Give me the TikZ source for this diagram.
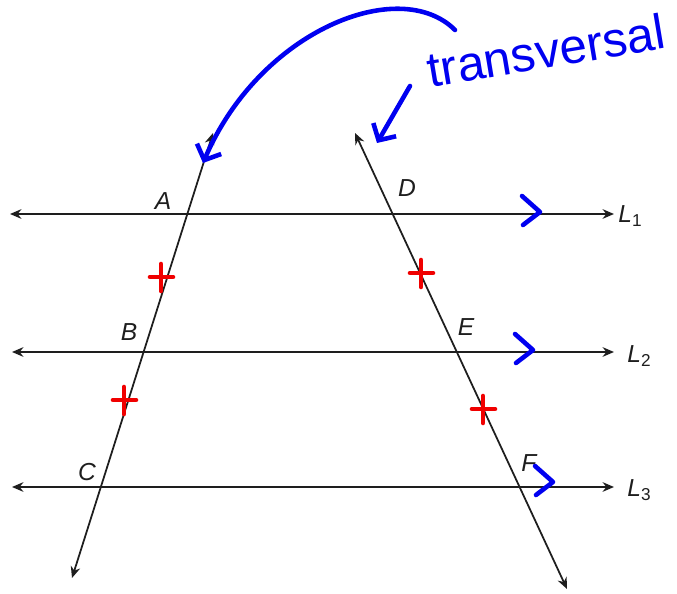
\documentclass[tikz,border=0pt]{standalone}
\usepackage{fontspec}
\setsansfont{Liberation Sans}
\usetikzlibrary{arrows.meta}
\definecolor{inkblue}{RGB}{0,0,240}
\definecolor{inkred}{RGB}{240,0,0}
\definecolor{linegray}{RGB}{30,30,30}

\begin{document}
\begin{tikzpicture}[x=0.02cm, y=-0.02cm,
    parline/.style={<->, >={Stealth[length=6.5pt,width=5.5pt]}, draw=linegray, line width=1pt},
    ptlabel/.style={font=\fontsize{14}{16}\sffamily\itshape, text=linegray, inner sep=0pt},
    redmark/.style={draw=inkred, line width=2.6pt, line cap=round},
    bluemark/.style={draw=inkblue, line width=2.6pt, line cap=round, line join=round},
    hand/.style={bluemark, -{Straight Barb[length=7pt,width=15pt]}}]
  \useasboundingbox (0,0) rectangle (677,594);
  % parallel lines and transversals
  \coordinate (L1w) at (10,214);  \coordinate (L1e) at (614,214);
  \coordinate (L2w) at (12,352);  \coordinate (L2e) at (614,352);
  \coordinate (L3w) at (12,487);  \coordinate (L3e) at (614,487);
  \coordinate (Ltop) at (213,133); \coordinate (Lbot) at (72,578);
  \coordinate (Rtop) at (355,133); \coordinate (Rbot) at (567,589);
  \draw[parline] (L1w) -- (L1e);
  \draw[parline] (L2w) -- (L2e);
  \draw[parline] (L3w) -- (L3e);
  \draw[parline] (Ltop) -- (Lbot);
  \draw[parline] (Rtop) -- (Rbot);
  \node[ptlabel] (A) at (163,201) {A};
  \node[ptlabel] (B) at (129,332) {B};
  \node[ptlabel] (C) at (87,472) {C};
  \node[ptlabel] (D) at (407,188) {D};
  \node[ptlabel] (E) at (466,327) {E};
  \node[ptlabel] (F) at (529,463) {F};
  \node[ptlabel, anchor=west] (l1) at (618,216) {L{\upshape\textsubscript{1}}};
  \node[ptlabel, anchor=west] (l2) at (627,356) {L{\upshape\textsubscript{2}}};
  \node[ptlabel, anchor=west] (l3) at (627,490) {L{\upshape\textsubscript{3}}};
  % congruent segment marks
  \coordinate (mAB) at (161,277); \coordinate (mBC) at (124,400);
  \coordinate (mDE) at (421,273); \coordinate (mEF) at (483,409);
  \foreach \p in {mAB,mBC,mDE,mEF}
    \draw[redmark] (\p) +(-11,0) -- +(12,0) (\p) +(0,-13) -- +(0,14);
  % parallel marks
  \coordinate (p1) at (540,212); \coordinate (p2) at (533,350); \coordinate (p3) at (553,482);
  \foreach \p in {p1,p2,p3}
    \draw[bluemark] (\p) +(-18,-16) -- (\p) -- +(-17,13);
  % handwritten note
  \node[font=\fontsize{28}{32}\sffamily, text=inkblue, rotate=9.5, anchor=base] (note) at (549,68) {transversal};
  \coordinate (h1s) at (455,30); \coordinate (h1e) at (203,163);
  \coordinate (h2s) at (410,86); \coordinate (h2e) at (377,143);
  \draw[hand] (h1s) .. controls (400,-25) and (260,30) .. (h1e);
  \draw[hand] (h2s) -- (h2e);
\end{tikzpicture}
\end{document}
